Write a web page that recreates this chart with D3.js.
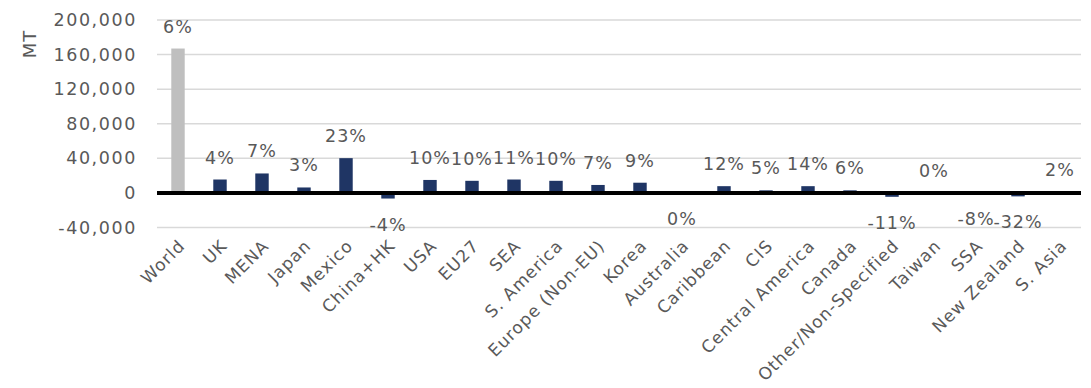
<!DOCTYPE html>
<html>
<head>
<meta charset="utf-8">
<script src="https://cdn.jsdelivr.net/npm/d3@7"></script>
<style>
  body { margin: 0; background: #fff; }
  svg text { font-family: "DejaVu Sans", sans-serif; fill: #595959; }
</style>
</head>
<body>
<svg id="chart"></svg>
<script>
// data
const categories = ["World", "UK", "MENA", "Japan", "Mexico", "China+HK", "USA", "EU27", "SEA", "S. America",
    "Europe (Non-EU)", "Korea", "Australia", "Caribbean", "CIS", "Central America", "Canada",
    "Other/Non-Specified", "Taiwan", "SSA", "New Zealand", "S. Asia"];
const values = [167000, 15500, 22500, 6300, 40200, -6500, 15000, 14000, 15500, 14000,
    9200, 11800, -200, 7800, 3000, 7800, 3000, -4500, 200, -300, -4000, 500];
const pctLabels = ["6%", "4%", "7%", "3%", "23%", "-4%", "10%", "10%", "11%", "10%",
    "7%", "9%", "0%", "12%", "5%", "14%", "6%", "-11%", "0%", "-8%", "-32%", "2%"];
const yTicks = [-40000, 0, 40000, 80000, 120000, 160000, 200000];

const width = 1091;
const height = 388;

const svg = d3.select("#chart")
    .attr("width", width)
    .attr("height", height);

const x = d3.scaleBand()
    .domain(categories)
    .range([157, 1081])
    .paddingInner(0.68)
    .paddingOuter(0.34);

const y = d3.scaleLinear()
    .domain([-40000, 200000])
    .range([227.5, 20]);

// gridlines
svg.append("g")
    .selectAll("line")
    .data(yTicks.filter(d => d !== 0))
    .enter().append("line")
    .attr("x1", 157)
    .attr("x2", 1081)
    .attr("y1", d => y(d))
    .attr("y2", d => y(d))
    .style("stroke", "#d9d9d9")
    .style("stroke-width", 1.5);

// y axis labels (plain hyphen for negatives)
const yAxis = svg.append("g")
    .attr("transform", "translate(137,0)")
    .call(d3.axisLeft(y).tickValues(yTicks).tickSize(0).tickPadding(0)
        .tickFormat(d => d3.format(",")(d).replace("\u2212", "-")));
yAxis.select(".domain").remove();
yAxis.selectAll("text")
    .style("font-size", "17.5px")
    .style("letter-spacing", "1.6px")
    .style("font-family", "'DejaVu Sans', sans-serif")
    .style("fill", "#595959");

svg.append("text")
    .attr("transform", "translate(36,44) rotate(-90)")
    .attr("text-anchor", "middle")
    .style("font-size", "18px")
    .style("letter-spacing", "1px")
    .text("MT");

// bars
svg.append("g")
    .selectAll("rect")
    .data(categories)
    .enter().append("rect")
    .attr("x", d => x(d))
    .attr("width", x.bandwidth())
    .attr("y", (d, i) => y(Math.max(0, values[i])))
    .attr("height", (d, i) => Math.abs(y(values[i]) - y(0)))
    .style("fill", (d, i) => i === 0 ? "#bfbfbf" : "#1f3564");

// zero line
svg.append("line")
    .attr("x1", 157)
    .attr("x2", 1081)
    .attr("y1", y(0))
    .attr("y2", y(0))
    .style("stroke", "#000")
    .style("stroke-width", 4);

// data labels
svg.append("g")
    .selectAll("text")
    .data(categories)
    .enter().append("text")
    .attr("x", d => x(d) + x.bandwidth() / 2)
    .attr("y", (d, i) => values[i] >= 0 ? y(values[i]) - 16 : y(Math.min(0, values[i])) + 32)
    .attr("text-anchor", "middle")
    .style("font-size", "17.5px")
    .style("letter-spacing", "1px")
    .text((d, i) => pctLabels[i]);

// category labels
svg.append("g")
    .selectAll("text")
    .data(categories)
    .enter().append("text")
    .attr("transform", d => `translate(${x(d) + x.bandwidth() / 2 + 8},${247}) rotate(-45)`)
    .attr("text-anchor", "end")
    .style("font-size", "17px")
    .style("letter-spacing", "1px")
    .text(d => d);
</script>
</body>
</html>
